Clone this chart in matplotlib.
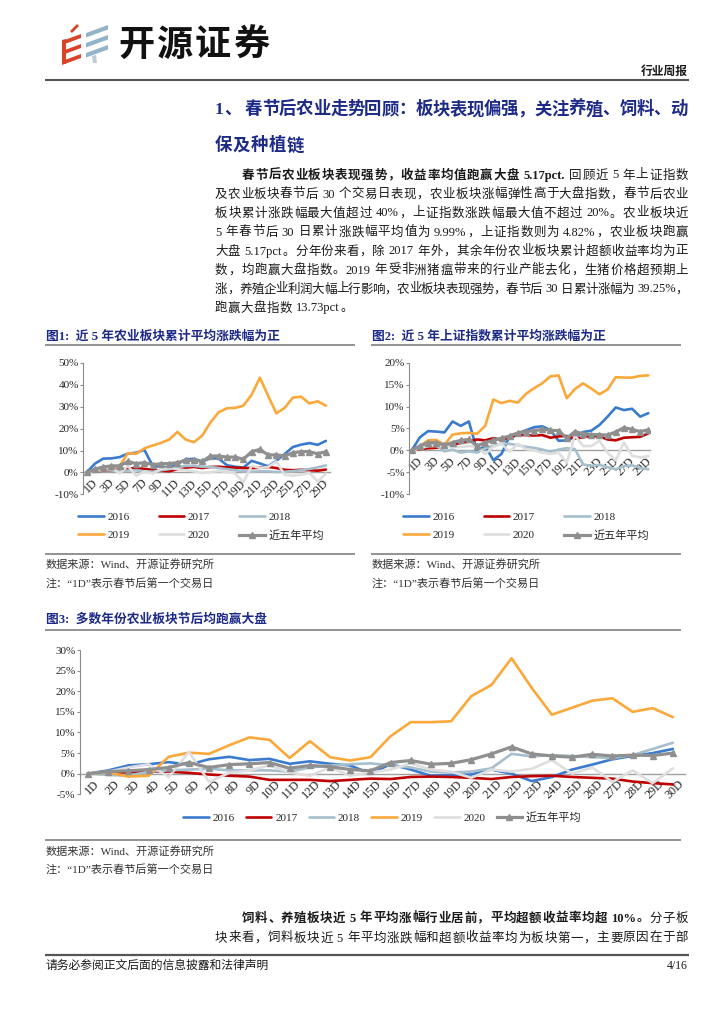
import numpy as np
import matplotlib
matplotlib.use('Agg')
import matplotlib.pyplot as plt
from matplotlib.patches import Polygon
from matplotlib.ticker import FuncFormatter
import matplotlib.transforms as mtrans

W, H = 724, 1024
SERIF = ['Liberation Serif', 'Noto Sans CJK SC']
plt.rcParams['font.family'] = SERIF

days = [f'{i}D' for i in range(1, 31)]
years = ['2016', '2017', '2018', '2019', '2020']
avg_label = '近五年平均'
colors = {'2016': '#3a7bcf', '2017': '#c00000', '2018': '#a6bfcd',
          '2019': '#fba83b', '2020': '#dedede'}
avg_color = '#8f8f8f'

# ---- Figure 1: agriculture sector cumulative change (%) ----
c1_2016 = [0, 4.0, 6.3, 6.4, 7.0, 8.6, 9.0, 10.3, 3.0, 2.6, 2.2, 3.8, 6.0, 6.2, 5.0,
           6.5, 6.3, 3.3, 2.6, 2.2, 5.3, 4.1, 2.8, 5.3, 8.4, 11.6, 12.7, 13.4, 12.6, 14.4]
c1_2017 = [0, 0.5, 0.8, 1.0, 1.3, 1.8, 2.0, 1.6, 1.2, 0.8, 0.5, 1.5, 2.2, 2.5, 2.0,
           2.5, 2.6, 2.3, 2.2, 2.0, 2.0, 2.1, 2.5, 2.0, 1.2, 1.0, 1.2, 1.0, 0.8, 1.3]
c1_2018 = [0, 0.5, 1.0, 1.0, 0.5, 0.8, 1.0, 0.5, 0.3, 1.0, 1.5, 2.3, 3.0, 3.0, 2.6,
           2.5, 2.0, 1.5, 1.0, 0.5, 0.3, 0.5, 0.5, 0.2, 0.3, 0.6, 1.0, 1.6, 2.3, 3.2]
c1_2019 = [0, 0.8, 1.5, 2.0, 3.0, 8.8, 8.5, 11.0, 12.3, 13.5, 15.0, 18.5, 15.0, 13.8, 16.8,
           22.8, 27.5, 29.3, 29.5, 30.5, 35.5, 43.3, 35.0, 27.0, 29.5, 34.2, 34.6, 31.5, 32.5, 30.5]
c1_2020 = [0, 1.0, 2.0, 2.2, -0.5, 3.0, -1.5, 0.5, -0.5, 1.5, 2.0, 1.5, 1.0, 0.5, -0.3,
           0.2, 0.6, 0.2, -0.5, -4.5, 3.0, 2.0, 2.5, 5.0, -1.0, -1.5, -1.0, -0.2, -4.2, -0.5]
c1_avg = [0, 1.5, 2.5, 3.0, 3.0, 5.0, 4.0, 4.5, 3.5, 4.0, 4.0, 4.5, 5.5, 5.5, 5.0,
          7.5, 7.5, 7.0, 7.0, 6.0, 9.5, 10.5, 8.0, 8.0, 7.5, 9.0, 9.5, 9.5, 8.5, 9.5]

# ---- Figure 2: Shanghai Composite cumulative change (%) ----
c2_2016 = [0, 3.0, 4.4, 4.3, 4.1, 6.6, 5.6, 6.6, 0.0, 1.0, -2.2, -0.8, 3.3, 3.9, 4.6,
           5.3, 5.5, 4.6, 2.2, 2.3, 3.0, 4.2, 4.5, 5.8, 7.7, 9.8, 9.2, 9.5, 7.7, 8.5]
c2_2017 = [0, 0.3, 0.5, 0.6, 1.0, 1.3, 1.7, 2.0, 2.5, 2.3, 2.8, 2.4, 3.0, 3.5, 3.5,
           3.4, 3.5, 2.9, 3.2, 3.3, 2.7, 3.0, 3.3, 3.2, 2.5, 2.3, 2.9, 3.0, 3.1, 3.9]
c2_2018 = [0, 0.5, 1.0, 1.2, -0.2, 0.2, -0.5, -0.2, -0.5, 0.5, 1.0, 1.5, 1.5, 1.2, 0.8,
           0.6, 0.2, -0.3, 0.2, 0.5, 0.3, -3.2, -3.5, -3.3, -3.8, -4.3, -3.6, -3.4, -4.0, -4.3]
c2_2019 = [0, 1.0, 2.3, 2.4, 1.3, 3.6, 3.9, 4.0, 3.8, 5.6, 11.6, 10.8, 11.3, 10.9, 12.9,
           14.2, 15.3, 16.9, 17.1, 11.9, 14.0, 15.3, 14.1, 12.8, 13.9, 16.7, 16.6, 16.6, 17.0, 17.1]
c2_2020 = [0, 0.5, 1.0, 1.0, 1.0, 0.8, 0.8, 1.0, 0.8, -0.8, 0.8, 1.5, -0.3, 1.5, 0.3,
           0.0, -0.5, -0.8, -0.5, -2.8, 3.4, 1.0, 1.0, 2.2, -0.5, -2.3, 1.8, -1.2, -1.6, -1.3]
c2_avg = [0, 1.0, 1.8, 1.8, 1.2, 1.8, 2.3, 2.5, 1.0, 1.8, 2.3, 2.8, 3.3, 4.0, 4.3,
          4.5, 4.8, 4.6, 4.5, 2.8, 4.3, 3.8, 3.6, 3.6, 3.5, 4.2, 5.2, 4.8, 4.3, 4.7]

# ---- Figure 3: excess return of agriculture sector (%) ----
c3_2016 = [0, 0.8, 2.0, 2.3, 2.8, 2.2, 3.5, 4.1, 3.3, 3.6, 2.4, 3.0, 2.4, 2.0, 0.0,
           2.3, 1.0, -0.5, -0.3, -0.2, 1.0, 0.0, -1.8, -0.8, 1.0, 2.2, 3.5, 4.3, 5.0, 6.0]
c3_2017 = [0, 0.3, 0.3, 0.5, 0.5, 0.2, -0.2, -0.5, -0.7, -1.5, -1.5, -1.5, -1.8, -1.5, -1.2,
           -1.3, -0.8, -0.7, -0.8, -1.0, -1.3, -0.8, -0.6, -0.5, -0.8, -1.0, -1.2, -1.9, -2.3, -2.6]
c3_2018 = [0, -0.3, -0.5, 0.5, 0.8, 1.0, 1.2, 0.8, 0.8, 0.8, 0.5, 1.5, 2.0, 2.3, 2.5,
           2.0, 1.5, 0.5, 0.3, 0.5, 1.3, 4.8, 4.2, 4.5, 4.3, 4.0, 3.8, 4.5, 6.0, 7.5]
c3_2019 = [0, 0.3, -0.7, -0.5, 4.1, 5.1, 4.8, 6.9, 8.8, 8.2, 3.8, 7.9, 4.0, 3.2, 4.0,
           9.1, 12.5, 12.5, 12.7, 18.8, 21.5, 28.0, 20.8, 14.3, 16.0, 17.7, 18.3, 15.0, 15.9, 13.7]
c3_2020 = [0, 0.5, 1.5, 2.3, -0.8, 5.3, -2.0, 0.2, 0.8, 2.0, 0.3, -0.5, 1.5, -0.5, 0.3,
           1.0, 2.5, 1.0, 0.5, -1.0, 1.0, 0.5, 1.2, 3.3, 0.0, 1.5, -2.0, 0.8, -2.3, 1.3]
c3_avg = [0, 0.5, 0.7, 1.0, 1.5, 2.7, 1.5, 2.2, 2.4, 2.7, 1.3, 2.0, 1.7, 1.0, 0.7,
          2.7, 3.2, 2.3, 2.5, 3.4, 4.8, 6.5, 4.8, 4.3, 4.0, 4.7, 4.3, 4.5, 4.4, 5.0]

fig = plt.figure(figsize=(W / 100, H / 100), dpi=100)
page = fig.add_axes([0, 0, 1, 1])
page.set_xlim(0, W)
page.set_ylim(H, 0)
page.axis('off')
renderer = fig.canvas.get_renderer()

NAVY = '#1d2a88'
TXT = '#1a1a1a'

_wc = {}
def tok_width(tok, size, weight):
    key = (tok, size, weight)
    if key not in _wc:
        t = page.text(0, 0, tok, fontsize=size, fontweight=weight, family=SERIF)
        _wc[key] = t.get_window_extent(renderer).width
        t.remove()
    return _wc[key]

def tokenize(segs):
    toks = []
    for text, weight in segs:
        buf = ''
        for ch in text:
            if ch == ' ' or ord(ch) >= 0x3000:
                if buf:
                    toks.append((buf, weight)); buf = ''
                toks.append((None if ch == ' ' else ch, weight))
            else:
                buf += ch
        if buf:
            toks.append((buf, weight))
    return toks

def draw_line(segs, x0, y, size, color=TXT, x1=None, gap=0.3, space=0.28):
    toks = tokenize(segs)
    px = size * 100 / 72
    sw = px * space
    widths = [sw if t is None else tok_width(t, size, w) for t, w in toks]
    n = sum(1 for t, _ in toks if t is not None)
    if x1 is not None:
        gap = (x1 - x0 - sum(widths)) / max(n - 1, 1)
    x = x0
    yb = y + 0.36 * px
    for (t, w), wd in zip(toks, widths):
        if t is None:
            x += wd
            continue
        page.text(x, yb, t, fontsize=size, fontweight=w, family=SERIF, color=color,
                  ha='left', va='baseline')
        x += wd + gap

def hline(x0, x1, y, color='#7f7f7f', lw=1.2):
    page.plot([x0, x1], [y, y], color=color, lw=lw, solid_capstyle='butt')

# ---------------- header ----------------
red = '#d8432a'
blue = '#93b3c8'
page.add_patch(Polygon([(70, 31), (77, 24), (79, 26), (72, 33)], closed=True, color=red, lw=0))
for yy in (35, 45, 55):
    page.add_patch(Polygon([(62, yy + 6), (81, yy - 1), (81, yy + 3), (62, yy + 10)], closed=True, color=red, lw=0))
page.add_patch(Polygon([(62, 40), (66, 39), (66, 64), (62, 64)], closed=True, color=red, lw=0))
for yy in (26, 36, 46):
    page.add_patch(Polygon([(86, yy + 7), (108, yy - 1), (108, yy + 3.5), (86, yy + 11.5)], closed=True, color=blue, lw=0))
page.add_patch(Polygon([(92, 56), (96, 55), (97, 63), (93, 63)], closed=True, color='#b9ccd8', lw=0))
xs = 118
for ch in '开源证券':
    page.text(xs, 45, ch, fontsize=26, fontweight='bold', family=['Noto Sans CJK SC'],
              color='#111111', ha='left', va='center')
    xs += 38.5

page.text(688, 72, '行业周报', fontsize=8.5, fontweight='bold', color=TXT, ha='right', va='center')
hline(45, 689, 80, color='#555555', lw=1.5)

# ---------------- heading ----------------
draw_line([('1、', 'bold')], 215, 108, 12.5, color=NAVY)
draw_line([('春节后农业走势回顾：板块表现偏强，关注养殖、饲料、动', 'bold')], 245, 108, 12.5, color=NAVY, x1=688)
draw_line([('保及种植链', 'bold')], 215, 144, 12.5, color=NAVY, gap=0.5)

# ---------------- body paragraph ----------------
body = [
    ([('春节后农业板块表现强势，收益率均值跑赢大盘 5.17pct.', 'bold'), (' 回顾近 5 年上证指数', 'normal')], 242, True),
    ([('及农业板块春节后 30 个交易日表现，农业板块涨幅弹性高于大盘指数，春节后农业', 'normal')], 215, True),
    ([('板块累计涨跌幅最大值超过 40%，上证指数涨跌幅最大值不超过 20%。农业板块近', 'normal')], 215, True),
    ([('5 年春节后 30 日累计涨跌幅平均值为 9.99%，上证指数则为 4.82%，农业板块跑赢', 'normal')], 215, True),
    ([('大盘 5.17pct。分年份来看，除 2017 年外，其余年份农业板块累计超额收益率均为正', 'normal')], 215, True),
    ([('数，均跑赢大盘指数。2019 年受非洲猪瘟带来的行业产能去化，生猪价格超预期上', 'normal')], 215, True),
    ([('涨，养殖企业利润大幅上行影响，农业板块表现强势，春节后 30 日累计涨幅为 39.25%，', 'normal')], 215, True),
    ([('跑赢大盘指数 13.73pct。', 'normal')], 215, False),
]
for k, (segs, x0, just) in enumerate(body):
    draw_line(segs, x0, 174 + k * 19, 9, x1=688 if just else None, gap=0.4)

# ---------------- chart helper ----------------
def make_chart(l, r, t, b, data, ylim, yticks, xlim, step, leg_xy, ncol, colspace, xlsize):
    ax = fig.add_axes([l / W, 1 - b / H, (r - l) / W, (b - t) / H])
    ax.set_facecolor('none')
    x = np.arange(len(days))
    lines = []
    for yr, vals in zip(years, data[:5]):
        ln, = ax.plot(x, vals, color=colors[yr], lw=1.9, label=yr,
                      solid_joinstyle='round', solid_capstyle='round')
        lines.append(ln)
    ln, = ax.plot(x, data[5], color=avg_color, lw=2.3, marker='^', ms=4.8,
                  label=avg_label, solid_joinstyle='round')
    lines.append(ln)
    ax.set_ylim(*ylim)
    ax.set_xlim(*xlim)
    ax.set_yticks(yticks)
    ax.yaxis.set_major_formatter(FuncFormatter(lambda v, p: f'{v:.0f}%'))
    for s in ('top', 'right'):
        ax.spines[s].set_visible(False)
    ax.spines['left'].set_color('#8c8c8c')
    ax.spines['left'].set_linewidth(0.8)
    ax.spines['bottom'].set_position(('data', 0))
    ax.spines['bottom'].set_color('#a0a0a0')
    ax.spines['bottom'].set_linewidth(1.0)
    ax.spines['bottom'].set_zorder(0.5)
    ax.tick_params(axis='y', direction='out', length=2, width=0.8, color='#8c8c8c',
                   labelsize=8, pad=1.2, labelcolor='#262626')
    ax.tick_params(axis='x', length=0, pad=1, labelsize=xlsize, labelcolor='#262626')
    ax.set_xticks(x[::step])
    ax.set_xticklabels(days[::step], rotation=45, ha='right', va='top', rotation_mode='anchor')
    off = mtrans.ScaledTranslation(5 / 100, -3 / 100, fig.dpi_scale_trans)
    for lab in ax.get_xticklabels():
        lab.set_transform(lab.get_transform() + off)
    if ncol == 3:
        order = [0, 3, 1, 4, 2, 5]
    else:
        order = list(range(6))
    hs = [lines[i] for i in order]
    ax.legend(hs, [h.get_label() for h in hs], loc='upper left',
              bbox_to_anchor=(leg_xy[0] / W, 1 - leg_xy[1] / H), bbox_transform=fig.transFigure,
              ncol=ncol, frameon=False, fontsize=8, handlelength=2.3, handletextpad=0.35,
              columnspacing=colspace, borderpad=0, borderaxespad=0, labelspacing=0.75,
              labelcolor='#262626')
    return ax

# Figure 1
page.text(46, 336, '图1:  近 5 年农业板块累计平均涨跌幅为正', fontsize=9.2, fontweight='bold', color=NAVY,
          ha='left', va='center')
hline(45, 355, 345)
make_chart(83.3, 330, 363, 494.3, [c1_2016, c1_2017, c1_2018, c1_2019, c1_2020, c1_avg],
           (-10, 50), [-10, 0, 10, 20, 30, 40, 50], (-0.41, 29.5), 2, (78, 512), 3, 2.6, 8.5)

# Figure 2
page.text(372, 336, '图2:  近 5 年上证指数累计平均涨跌幅为正', fontsize=9.2, fontweight='bold', color=NAVY,
          ha='left', va='center')
hline(371, 681, 345)
make_chart(409.3, 650, 362.7, 494.3, [c2_2016, c2_2017, c2_2018, c2_2019, c2_2020, c2_avg],
           (-10, 20), [-10, -5, 0, 5, 10, 15, 20], (-0.3, 29.2), 2, (403, 512), 3, 2.6, 8.5)

hline(45, 355, 554)
hline(371, 681, 554)
for x0 in (46, 372):
    page.text(x0, 564, '数据来源：Wind、开源证券研究所', fontsize=8, color='#333333', ha='left', va='center')
    page.text(x0, 583, '注：“1D”表示春节后第一个交易日', fontsize=8, color='#333333', ha='left', va='center')

# Figure 3
page.text(46, 620, '图3:  多数年份农业板块节后均跑赢大盘', fontsize=9.2, fontweight='bold', color=NAVY,
          ha='left', va='center')
hline(45, 681, 630)
make_chart(80, 685, 650, 794.3, [c3_2016, c3_2017, c3_2018, c3_2019, c3_2020, c3_avg],
           (-5, 30), [-5, 0, 5, 10, 15, 20, 25, 30], (-0.4, 29.6), 1, (183, 812), 6, 1.0, 8.8)
hline(45, 681, 840)
page.text(46, 851, '数据来源：Wind、开源证券研究所', fontsize=8, color='#333333', ha='left', va='center')
page.text(46, 869, '注：“1D”表示春节后第一个交易日', fontsize=8, color='#333333', ha='left', va='center')

# ---------------- bottom paragraph ----------------
draw_line([('饲料、养殖板块近 5 年平均涨幅行业居前，平均超额收益率均超 10%。', 'bold'), ('分子板', 'normal')],
          242, 917, 9, x1=688)
draw_line([('块来看，饲料板块近 5 年平均涨跌幅和超额收益率均为板块第一，主要原因在于部', 'normal')],
          215, 937, 9, x1=688)

# ---------------- footer ----------------
hline(45, 689, 955, color='#555555', lw=1.6)
page.text(46, 966, '请务必参阅正文后面的信息披露和法律声明', fontsize=8.5, color=TXT, ha='left', va='center')
page.text(688, 966, '4/16', fontsize=8.5, color=TXT, ha='right', va='center')

fig.savefig('out.png', dpi=100)
